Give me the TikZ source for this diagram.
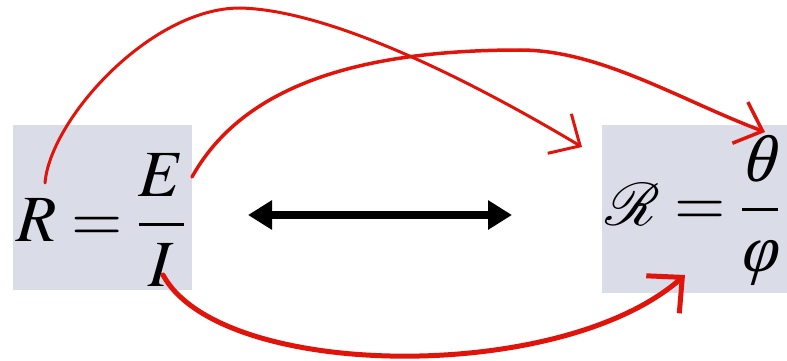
\documentclass[tikz,border=0pt]{standalone}
\usepackage{mathptmx}
\usepackage{fontspec}
\setmainfont{Liberation Serif}
\newfontfamily\grkit{Liberation Serif Italic}[FakeSlant=0.12]
\usetikzlibrary{arrows.meta}
\definecolor{boxgray}{HTML}{DADCE7}
\definecolor{penred}{HTML}{E1140C}

% scalable script R
\DeclareFontFamily{U}{rsfso}{\skewchar\font127 }
\DeclareFontShape{U}{rsfso}{m}{n}{<-> rsfs10}{}
\DeclareMathAlphabet{\mathrsf}{U}{rsfso}{m}{n}
\newcommand{\itgr}[1]{\mbox{\grkit #1}}
\newcommand{\reluct}{\mbox{\fontsize{60}{66}\selectfont$\mathrsf{R}$}}

\tikzset{
  eqbox/.style={fill=boxgray, inner sep=0pt},
  formula/.style={inner sep=0pt, font=\fontsize{66}{74}\selectfont},
  swap/.style={line width=8pt,
    {Triangle[length=24pt,width=28pt]}-{Triangle[length=24pt,width=28pt]}},
  link/.style={draw=penred, line cap=round, line join=round},
}

\begin{document}
\begin{tikzpicture}[x=1pt, y=-1pt]
  \useasboundingbox (0,0) rectangle (787,361);

  % the two boxes
  \node[eqbox, minimum width=179pt, minimum height=165pt] (lbox) at (102.5,207.5) {};
  \node[eqbox, minimum width=185pt, minimum height=168pt] (rbox) at (694.5,209) {};

  % electric and magnetic law
  \node[formula] (ohm) at (101,220) {$\displaystyle R=\frac{E}{I}$};
  \node[formula, anchor=west] (hopk) at (605,210)
    {$\displaystyle \reluct=\frac{\itgr{θ}\vphantom{E}}{\itgr{φ}\vphantom{I}}$};

  % ends of the connectors
  \coordinate (fromR) at (45,183);
  \coordinate (fromE) at (192,177);
  \coordinate (fromI) at (163,275);
  \coordinate (toR) at (582,147);
  \coordinate (toTheta) at (765,132);
  \coordinate (toPhi) at (685,275);
  \coordinate (swapL) at (248,215);
  \coordinate (swapR) at (512,215);

  \draw[swap] (swapL) -- (swapR);

  % R -> calligraphic R, E -> theta, I -> phi
  \draw[link, line width=3pt, -{Straight Barb[length=24pt,width=46pt]}]
    (fromR) .. controls (50,120) and (150,8) .. (240,8)
    .. controls (330,10) and (470,80) .. (toR);
  \draw[link, line width=3.5pt, -{Straight Barb[length=24pt,width=44pt]}]
    (fromE) .. controls (235,100) and (330,50) .. (520,50)
    .. controls (600,50) and (680,100) .. (toTheta);
  \draw[link, line width=5pt, -{Straight Barb[length=26pt,width=50pt]}]
    (fromI) .. controls (220,380) and (560,385) .. (toPhi);
\end{tikzpicture}
\end{document}
